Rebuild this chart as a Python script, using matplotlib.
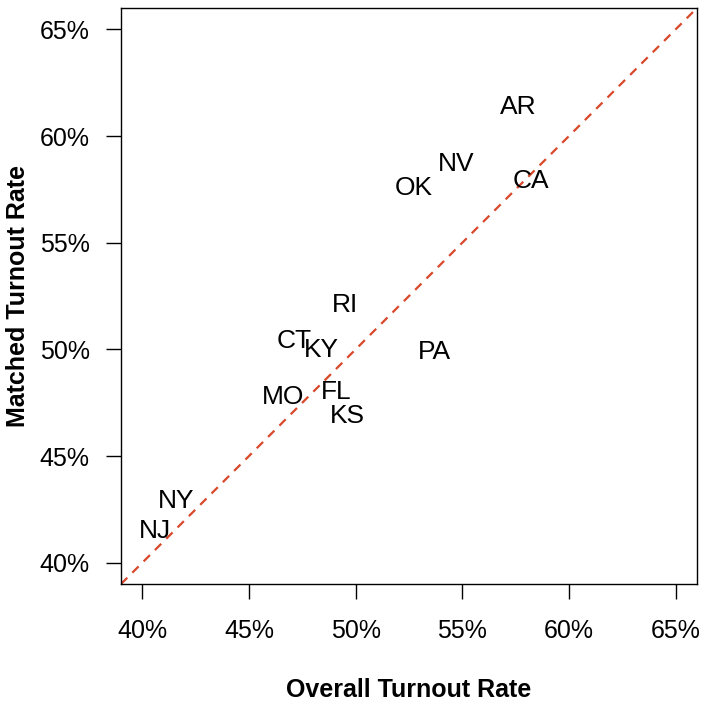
import matplotlib
matplotlib.use("Agg")
import matplotlib.pyplot as plt

states = ["AR", "NV", "OK", "CA", "RI", "CT", "KY", "PA", "MO", "FL", "KS", "NY", "NJ"]
overall = [57.6, 54.7, 52.7, 58.2, 49.5, 47.1, 48.4, 53.7, 46.6, 49.1, 49.6, 41.6, 40.6]
matched = [61.5, 58.8, 57.7, 58.0, 52.2, 50.5, 50.1, 50.0, 47.9, 48.1, 47.0, 43.0, 41.6]
ticks = [40, 45, 50, 55, 60, 65]
tick_labels = ["40%", "45%", "50%", "55%", "60%", "65%"]

plt.rcParams['font.family'] = ['Liberation Sans', 'DejaVu Sans']

fig = plt.figure(figsize=(7.07, 7.06), dpi=100)
ax = fig.add_axes([121/707, 1-584/706, (697-121)/707, (584-8)/706])

lo, hi = 39, 66
ax.plot([lo, hi], [lo, hi], linestyle=(0, (4, 3.2)), color='#d9482b', linewidth=1.6, zorder=1)

for s, x, y in zip(states, overall, matched):
    ax.text(x, y, s, ha='center', va='center_baseline', fontsize=19, color='black', zorder=2)

ax.set_xlim(lo, hi)
ax.set_ylim(lo, hi)
ax.set_xticks(ticks)
ax.set_xticklabels(tick_labels)
ax.set_yticks(ticks)
ax.set_yticklabels(tick_labels)
ax.tick_params(axis='both', direction='out', length=10.5, width=1, labelsize=18)
ax.tick_params(axis='x', pad=15)
ax.tick_params(axis='y', pad=12)
for sp in ax.spines.values():
    sp.set_linewidth(1)

fig.text(409/707, 1-690/706, "Overall Turnout Rate", ha='center', va='center', fontsize=18, fontweight='bold')
fig.text(18/707, 1-296/706, "Matched Turnout Rate", ha='center', va='center', fontsize=18, fontweight='bold', rotation=90)

fig.savefig("out.png", dpi=100)
